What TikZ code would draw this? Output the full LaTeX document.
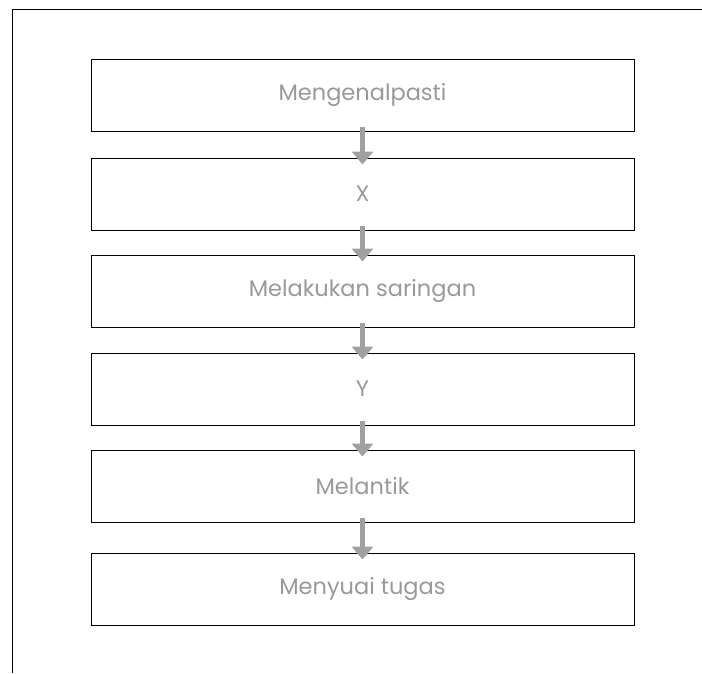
\documentclass[tikz,border=0pt]{standalone}
\usepackage{fontspec}
\setmainfont{Poppins}
\usetikzlibrary{arrows.meta,positioning}
\definecolor{txtgray}{HTML}{999999}
\definecolor{arrgray}{HTML}{A0A0A0}
\tikzset{
  stepbox/.style={draw=black, line width=1pt, minimum width=543pt, minimum height=72pt, inner sep=0pt, text=txtgray, font=\fontsize{22.5}{26}\selectfont},
  flowarrow/.style={draw=arrgray, line width=5pt, -{Triangle[width=21pt,length=13pt]}, shorten <=-5pt, shorten >=-7pt},
  frameline/.style={draw=black, line width=1pt}
}
\begin{document}
\begin{tikzpicture}[x=1pt,y=-1pt]
\useasboundingbox (0,0) rectangle (702,673);
\draw[frameline] (12,673) -- (12,9) -- (702,9);
\node[stepbox] (b1) at (362.5,95) {Mengenalpasti};
\node[stepbox] (b2) at (362.5,194) {X};
\node[stepbox] (b3) at (362.5,291) {Melakukan saringan};
\node[stepbox] (b4) at (362.5,389) {Y};
\node[stepbox] (b5) at (362.5,486) {Melantik};
\node[stepbox] (b6) at (362.5,589) {Menyuai tugas};
\foreach \a/\b in {b1/b2,b2/b3,b3/b4,b4/b5,b5/b6}
  \draw[flowarrow] (\a.south) -- (\b.north);
\end{tikzpicture}
\end{document}
